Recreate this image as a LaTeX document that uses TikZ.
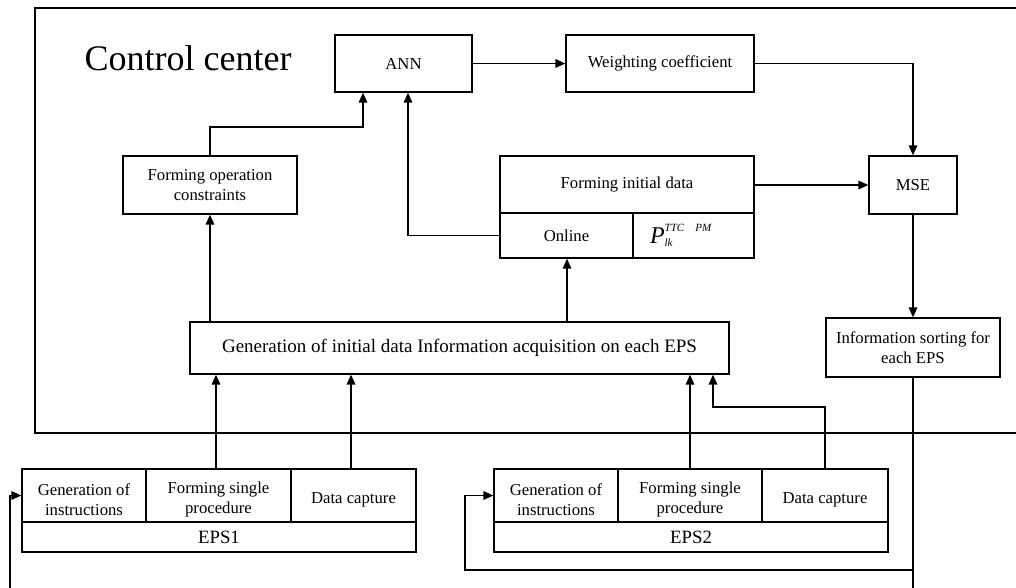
\documentclass[tikz,border=0pt]{standalone}
\usepackage{fontspec}
\setmainfont{Liberation Serif}
\usetikzlibrary{arrows.meta}
\begin{document}
\begin{tikzpicture}[x=1pt,y=-1pt,
  box/.style={draw, line width=1.2pt, inner sep=0pt, align=center, font=\fontsize{16.7}{19.5}\selectfont},
  celltext/.style={align=center, font=\fontsize{16.7}{19.5}\selectfont, yshift=-4pt},
  conn/.style={line width=1.6pt},
  arr/.style={conn, -{Triangle[length=10pt,width=8.5pt]}}]
  % page frame
  \useasboundingbox (0,0) rectangle (1016,587);
  \clip (0,0) rectangle (1016,587);
  % control center area
  \draw[line width=1.7pt] (1030,8) -- (35,8) -- (35,433) -- (1030,433);
  \node[anchor=base, font=\fontsize{36}{40}\selectfont] (title) at (188,70) {Control center};

  % control center blocks
  \node[box, minimum width=137pt, minimum height=57pt] (ann) at (403.5,63.5) {ANN};
  \node[box, minimum width=188pt, minimum height=57pt] (wc) at (660,63.5) {Weighting coefficient};
  \node[box, minimum width=88pt, minimum height=58pt] (mse) at (913,185) {MSE};
  \node[box, minimum width=254pt, minimum height=57pt] (fid) at (627,184.5) {Forming initial data};
  \node[box, minimum width=133pt, minimum height=45pt] (online) at (566.5,235.5) {Online};
  \node[box, minimum width=121pt, minimum height=45pt, text width=87pt, align=left] (pcell) at (693.5,235.5)
    {\itshape\fontsize{24}{24}\selectfont P\fontsize{11}{11}\selectfont\rlap{\raisebox{12pt}{TTC\ \ PM}}\raisebox{-3pt}{lk}};
  \node[box, minimum width=174pt, minimum height=58pt] (foc) at (210,185) {Forming operation\\constraints};
  \node[box, minimum width=539pt, minimum height=52pt, font=\fontsize{19}{21}\selectfont] (gen) at (459.5,348)
    {Generation of initial data Information acquisition on each EPS};
  \node[box, minimum width=174pt, minimum height=59pt] (isort) at (913,347.5) {Information sorting for\\each EPS};

  % EPS1
  \node[box, minimum width=124pt, minimum height=53pt, label={[celltext]center:{Generation of\\instructions}}] (gi1) at (84,495.5) {};
  \node[box, minimum width=145pt, minimum height=53pt, label={[celltext]center:{Forming single\\procedure}}] (fs1) at (218.5,495.5) {};
  \node[box, minimum width=125pt, minimum height=53pt, label={[celltext]center:{Data capture}}] (dc1) at (353.5,495.5) {};
  \node[box, minimum width=394pt, minimum height=30pt, font=\fontsize{18.8}{20}\selectfont] (eps1) at (219,537) {EPS1};
  % EPS2
  \node[box, minimum width=124pt, minimum height=53pt, label={[celltext]center:{Generation of\\instructions}}] (gi2) at (556,495.5) {};
  \node[box, minimum width=144pt, minimum height=53pt, label={[celltext]center:{Forming single\\procedure}}] (fs2) at (690,495.5) {};
  \node[box, minimum width=126pt, minimum height=53pt, label={[celltext]center:{Data capture}}] (dc2) at (825,495.5) {};
  \node[box, minimum width=394pt, minimum height=30pt, font=\fontsize{18.8}{20}\selectfont] (eps2) at (691,537) {EPS2};

  % free ends below the page
  \coordinate (sortend) at (913,600);
  \coordinate (loopstart) at (10,600);

  % connectors
  \draw[arr] (ann.east) -- (wc.west);
  \draw[arr] (wc.east) -| (mse.north);
  \draw[arr] (fid.east |- mse.west) -- (mse.west);
  \draw[arr] (mse.south) -- (isort.north);
  \draw[conn] (isort.south) -- (sortend);
  \draw[arr] (online.west) -| (ann.south -| 408,0);
  \draw[arr] (foc.north) |- (363,127) -- (ann.south -| 363,0);
  \draw[arr] (gen.north -| foc.south) -- (foc.south);
  \draw[arr] (gen.north -| 567,0) -- (online.south -| 567,0);
  \draw[arr] (fs1.north -| 216,0) -- (gen.south -| 216,0);
  \draw[arr] (dc1.north -| 351,0) -- (gen.south -| 351,0);
  \draw[arr] (fs2.north) -- (gen.south -| fs2.north);
  \draw[arr] (dc2.north) |- (713,407) -- (gen.south -| 713,0);
  \draw[arr] (sortend |- 0,570) -- (465,570) |- (gi2.west);
  \draw[arr] (loopstart) |- (gi1.west);
\end{tikzpicture}
\end{document}
